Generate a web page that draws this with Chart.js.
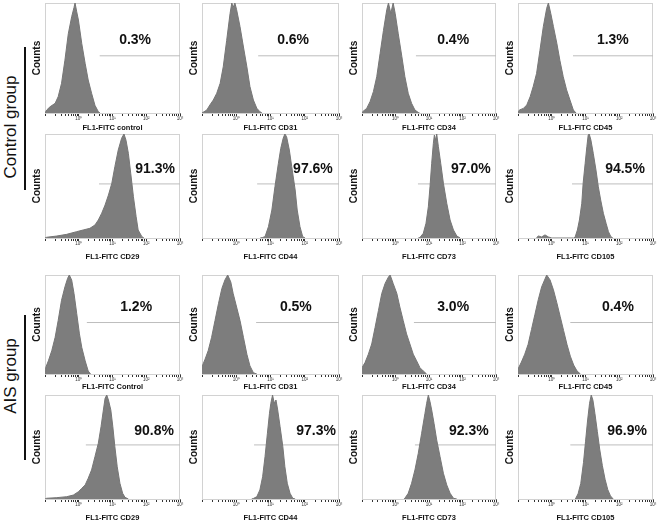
<!DOCTYPE html>
<html>
<head>
<meta charset="utf-8">
<title>FL1-FITC histograms</title>
<script src="https://cdn.jsdelivr.net/npm/chart.js"></script>
<style>
  body { margin: 0; background: #fff; }
  #figure { position: relative; width: 661px; height: 525px; overflow: hidden; background: #fff;
            font-family: 'Liberation Sans', Arial, sans-serif; }
  #figure canvas { position: absolute; }
  .group { position: absolute; font-size: 17px; color: #111; white-space: nowrap;
           transform: translate(-50%, -50%) rotate(-90deg); }
  .bar { position: absolute; width: 1.5px; background: #111; }
</style>
</head>
<body>
<div id="figure">
  <div class="group" style="left:11px; top:127px">Control group</div>
  <div class="bar" style="left:24px; top:47px; height:143px"></div>
  <div class="group" style="left:11px; top:376px">AIS group</div>
  <div class="bar" style="left:24px; top:315px; height:145px"></div>
</div>
<script>
// axis titles and gated percentages, panel order: 4 negative markers then 4 positive
const ctrlTitles = ['FL1-FITC control', 'FL1-FITC CD31', 'FL1-FITC CD34', 'FL1-FITC CD45',
                    'FL1-FITC CD29', 'FL1-FITC CD44', 'FL1-FITC CD73', 'FL1-FITC CD105'];
const aisTitles = ['FL1-FITC Control', 'FL1-FITC CD31', 'FL1-FITC CD34', 'FL1-FITC CD45',
                   'FL1-FITC CD29', 'FL1-FITC CD44', 'FL1-FITC CD73', 'FL1-FITC CD105'];
const ctrlPercent = ['0.3%', '0.6%', '0.4%', '1.3%', '91.3%', '97.6%', '97.0%', '94.5%'];
const aisPercent = ['1.2%', '0.5%', '3.0%', '0.4%', '90.8%', '97.3%', '92.3%', '96.9%'];
const decadeLabels = ['10⁰', '10¹', '10²', '10³'];

// histograms: [log10 FL1 intensity, counts (% of panel max)]
const ctrlControl = [[-1,0],[-0.95,2.7],[-0.85,5.7],[-0.70,8.8],[-0.61,14.8],[-0.51,27],[-0.41,48],[-0.31,72],[-0.21,87.5],[-0.14,96],[-0.11,100],[-0.06,92],[-0.01,84.5],[0.09,63],[0.19,45],[0.28,30],[0.38,18],[0.48,7],[0.58,1.2],[0.63,0]];
const ctrlCD31 = [[-1,0],[-0.86,2.7],[-0.77,7.3],[-0.67,11.8],[-0.57,17.9],[-0.47,27],[-0.38,42],[-0.28,66],[-0.18,90.6],[-0.13,100],[-0.09,96],[-0.04,100],[0.01,94],[0.11,78.5],[0.21,60],[0.31,42],[0.40,24],[0.50,11.8],[0.60,4.3],[0.69,1.2],[0.75,0]];
const ctrlCD34 = [[-1,0],[-0.98,1.2],[-0.86,4.2],[-0.76,10.3],[-0.66,19.4],[-0.56,33],[-0.46,54],[-0.36,75],[-0.26,94],[-0.21,100],[-0.14,90.6],[-0.07,100],[-0.01,90.6],[0.08,72.5],[0.19,51.2],[0.28,33],[0.38,17.9],[0.48,8.8],[0.58,2.7],[0.68,0.5],[0.72,0]];
const ctrlCD45 = [[-1,0],[-0.96,2.7],[-0.84,4.2],[-0.74,7.3],[-0.64,14.8],[-0.55,24],[-0.45,36],[-0.35,57],[-0.25,78.5],[-0.15,95.2],[-0.10,100],[-0.03,90.6],[0.05,78.5],[0.15,63.4],[0.24,48],[0.34,33],[0.44,21],[0.54,11.8],[0.64,2.7],[0.72,0]];
const ctrlCD29 = [[-1,0],[-0.95,0.7],[-0.65,1.9],[-0.36,3.5],[-0.06,6.1],[0.13,7.7],[0.33,9.3],[0.48,12.5],[0.58,17.3],[0.68,23.8],[0.78,31.7],[0.88,41.3],[0.98,52.6],[1.07,68.6],[1.17,84.6],[1.27,95.9],[1.34,100],[1.40,94],[1.47,81.4],[1.54,62.2],[1.62,39.7],[1.70,20.5],[1.76,7.7],[1.87,1.3],[1.93,0]];
const ctrlCD44 = [[0.70,0],[0.77,0.5],[0.84,1.3],[0.94,10.9],[1.04,26.9],[1.13,49.3],[1.23,71.8],[1.30,86.2],[1.37,95.9],[1.42,100],[1.47,97.4],[1.55,84.6],[1.62,68.6],[1.72,46.2],[1.78,26.9],[1.86,10.9],[1.94,1.3],[2.01,0]];
const ctrlCD73 = [[0.68,0],[0.73,0.5],[0.83,4.5],[0.91,14.1],[0.98,30],[1.03,49.3],[1.08,71.8],[1.13,91],[1.16,99],[1.20,94],[1.23,100],[1.28,87.8],[1.35,71.8],[1.43,52.6],[1.53,33.4],[1.63,17.3],[1.73,7.7],[1.83,1.9],[1.93,0]];
const ctrlCD105 = [[-0.45,0],[-0.40,2],[-0.30,1],[-0.20,3],[-0.10,1],[0,0],[0.65,0],[0.69,0.7],[0.76,7.7],[0.82,17.3],[0.89,33.4],[0.93,52.6],[0.99,71.8],[1.04,87.8],[1.08,99],[1.11,100],[1.16,94.2],[1.23,81.4],[1.31,65.4],[1.38,49.3],[1.45,36.5],[1.53,23.7],[1.61,14.1],[1.68,6.1],[1.75,1.3],[1.81,0]];

const aisControl = [[-1,3],[-0.98,6.4],[-0.90,13.3],[-0.80,23.5],[-0.70,37],[-0.61,54],[-0.51,74.5],[-0.41,88],[-0.33,96.6],[-0.28,100],[-0.21,95],[-0.14,81.3],[-0.06,61],[0.02,40.5],[0.09,26.8],[0.19,13.3],[0.28,3],[0.35,0]];
const aisCD31 = [[-1,5],[-0.99,8.2],[-0.91,15],[-0.82,23.5],[-0.72,37],[-0.62,54],[-0.52,71],[-0.42,86.4],[-0.33,95],[-0.25,100],[-0.16,93],[-0.09,81.3],[0.01,67.7],[0.11,54],[0.21,37],[0.31,20],[0.40,8.2],[0.50,1.3],[0.60,0]];
const aisCD34 = [[-1,6.4],[-0.91,11.5],[-0.81,20],[-0.71,30.3],[-0.61,47],[-0.51,64],[-0.41,81.3],[-0.31,91.5],[-0.21,98],[-0.16,100],[-0.07,91.5],[0.04,81.3],[0.13,67.7],[0.23,54],[0.33,40.5],[0.43,30.3],[0.53,20],[0.63,13.3],[0.73,6.4],[0.83,3],[0.93,0]];
const aisCD45 = [[-1,5],[-0.90,12],[-0.80,20],[-0.70,30],[-0.60,45],[-0.50,60],[-0.40,75],[-0.30,88],[-0.20,96],[-0.15,100],[-0.05,95],[0.05,85],[0.15,72],[0.25,58],[0.35,44],[0.45,30],[0.55,18],[0.65,9],[0.75,3],[0.85,0]];
const aisCD29 = [[-1,0],[-0.95,0.7],[-0.65,1.3],[-0.36,2.2],[-0.16,3.8],[-0.01,7],[0.09,10.3],[0.19,13.5],[0.28,19.9],[0.38,27.9],[0.48,40.7],[0.58,53.6],[0.66,69.5],[0.73,85.6],[0.78,96.8],[0.83,100],[0.88,95.2],[0.95,85.6],[1.01,69.5],[1.07,50.3],[1.14,31],[1.22,15.1],[1.30,5.5],[1.37,1.6],[1.47,0]];
const aisCD44 = [[0.45,0],[0.50,0.5],[0.60,2.2],[0.69,8.7],[0.77,21.4],[0.84,40.7],[0.91,63.2],[0.97,82.4],[1.01,92],[1.06,100],[1.11,92],[1.16,95.2],[1.21,85.6],[1.28,69.5],[1.36,50.3],[1.42,31],[1.49,15.1],[1.57,5.5],[1.65,0.7],[1.72,0]];
const aisCD73 = [[0.25,0],[0.28,0.7],[0.38,5.5],[0.48,15.1],[0.58,27.9],[0.68,43.9],[0.78,63.2],[0.88,82.4],[0.93,92],[0.98,100],[1.03,93.6],[1.08,85.6],[1.15,72.8],[1.23,56.7],[1.33,40.7],[1.43,24.7],[1.53,13.5],[1.63,5.5],[1.73,0.7],[1.83,0]];
const aisCD105 = [[0.70,0],[0.78,5],[0.86,15],[0.94,35],[1.00,55],[1.06,75],[1.12,92],[1.17,100],[1.22,95],[1.28,82],[1.35,65],[1.42,48],[1.50,32],[1.58,19],[1.66,9],[1.74,3],[1.82,0]];

const ctrlHist = [ctrlControl, ctrlCD31, ctrlCD34, ctrlCD45, ctrlCD29, ctrlCD44, ctrlCD73, ctrlCD105];
const aisHist = [aisControl, aisCD31, aisCD34, aisCD45, aisCD29, aisCD44, aisCD73, aisCD105];

// gate marker start (log10) and its height
const ctrlGate = [0.62, 0.64, 0.61, 0.63, 0.60, 0.61, 0.67, 0.60];
const aisGate = [0.24, 0.58, 0.55, 0.55, 0.21, 0.52, 0.58, 0.55];
const gateLevel = 52;

// layout of the 4x4 grid (plot boxes in page pixels)
const colLeft = [45, 202, 362, 518];
const colWidth = [135, 137, 134, 135];
const rowTop = [3, 134, 275, 395];
const rowBottom = [113, 238, 374, 499];
const titleGap = [14.5, 18.5, 12.5, 18.5];
const labelX = [[1.67, 1.66, 1.72, 1.81], [2.26, 2.24, 2.25, 2.17], [1.70, 1.74, 1.72, 1.96], [2.23, 2.33, 2.19, 2.23]];
const labelY = [66, 66, 68, 65];

// log tick marks 1..9 per decade
const tickMarks = [];
for (let d = -1; d < 3; d++) {
    for (let k = 1; k < 10; k++) tickMarks.push(d + Math.log10(k));
}
tickMarks.push(3);

Chart.defaults.font.family = "'Liberation Sans', Arial, sans-serif";

const panelDeco = {
    id: 'panelDeco',
    beforeDatasetsDraw(chart) {
        const {ctx, chartArea: a} = chart;
        ctx.save();
        ctx.strokeStyle = '#d2d2d2';
        ctx.lineWidth = 1;
        ctx.strokeRect(Math.round(a.left) + 0.5, Math.round(a.top) + 0.5, Math.round(a.width) - 1, Math.round(a.height));
        ctx.restore();
    },
    afterDatasetsDraw(chart, args, opts) {
        const {ctx, scales} = chart;
        ctx.save();
        ctx.font = "bold 14px 'Liberation Sans', Arial, sans-serif";
        ctx.fillStyle = '#111';
        ctx.textAlign = 'center';
        ctx.textBaseline = 'middle';
        ctx.fillText(opts.text, scales.x.getPixelForValue(opts.x), scales.y.getPixelForValue(opts.y));
        ctx.restore();
    }
};

const fig = document.getElementById('figure');

function makePanel(r, c) {
    const ais = r >= 2;
    const i = (r % 2) * 4 + c;
    const hist = (ais ? aisHist : ctrlHist)[i];
    const gate = (ais ? aisGate : ctrlGate)[i];
    const H = rowBottom[r] - rowTop[r];
    const axisH = titleGap[r] + 4.5;

    const canvas = document.createElement('canvas');
    canvas.width = 14 + colWidth[c] + 6;
    canvas.height = 2 + H + axisH;
    canvas.style.left = (colLeft[c] - 14) + 'px';
    canvas.style.top = (rowTop[r] - 2) + 'px';
    fig.appendChild(canvas);

    new Chart(canvas, {
        type: 'line',
        data: {
            datasets: [{
                data: hist.map(p => ({x: p[0], y: p[1]})),
                borderColor: '#767676',
                backgroundColor: '#7d7d7d',
                borderWidth: 1,
                fill: 'origin',
                pointRadius: 0,
                tension: 0
            }, {
                data: [{x: gate, y: gateLevel}, {x: 3, y: gateLevel}],
                borderColor: '#bdbdbd',
                borderWidth: 1,
                fill: false,
                pointRadius: 0
            }]
        },
        options: {
            responsive: false,
            animation: false,
            devicePixelRatio: 1,
            layout: {padding: {left: 0, top: 2, right: 6, bottom: 0}},
            plugins: {
                legend: {display: false},
                tooltip: {enabled: false},
                panelDeco: {text: (ais ? aisPercent : ctrlPercent)[i], x: labelX[r][c], y: labelY[r]}
            },
            scales: {
                x: {
                    type: 'linear',
                    min: -1,
                    max: 3,
                    afterBuildTicks: s => { s.ticks = tickMarks.map(v => ({value: v})); },
                    afterFit: s => { s.height = axisH; },
                    grid: {display: true, drawOnChartArea: false, drawTicks: true, tickLength: 3, color: '#333'},
                    border: {display: true, color: '#777', width: 1},
                    ticks: {
                        autoSkip: false,
                        maxRotation: 0,
                        padding: 0,
                        color: '#333',
                        font: {size: 4.5},
                        callback: v => {
                            const n = Math.round(v);
                            return (Math.abs(v - n) < 1e-6 && n >= 0) ? decadeLabels[n] : '';
                        }
                    },
                    title: {
                        display: true,
                        text: (ais ? aisTitles : ctrlTitles)[i],
                        color: '#111',
                        padding: 0,
                        font: {size: 7.5, weight: 'bold'}
                    }
                },
                y: {
                    min: 0,
                    max: 100,
                    afterFit: s => { s.width = 14; },
                    grid: {display: false},
                    border: {display: false},
                    ticks: {display: false},
                    title: {
                        display: true,
                        text: 'Counts',
                        color: '#111',
                        padding: 0,
                        font: {size: 10, weight: 'bold'}
                    }
                }
            }
        },
        plugins: [panelDeco]
    });
}

for (let r = 0; r < 4; r++) {
    for (let c = 0; c < 4; c++) makePanel(r, c);
}
</script>
</body>
</html>
